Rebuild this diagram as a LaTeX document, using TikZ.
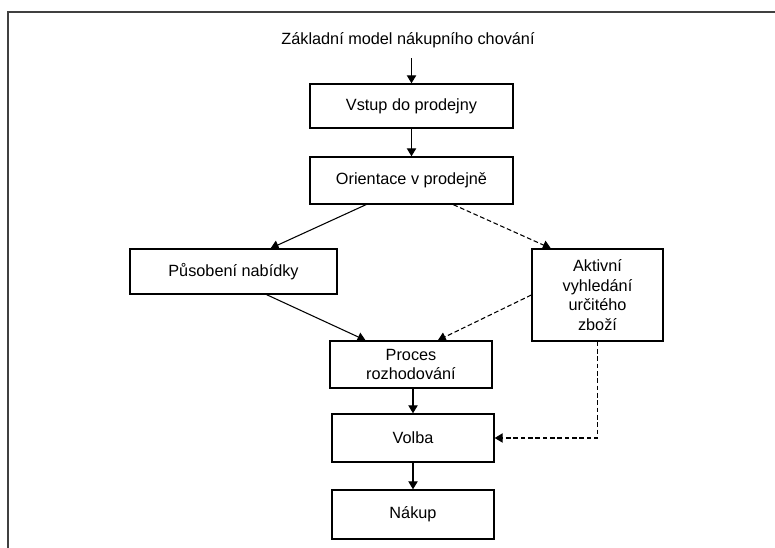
\documentclass[tikz,border=0pt]{standalone}
\usepackage{fontspec}
\setmainfont{Liberation Sans}
\usetikzlibrary{arrows.meta}

\tikzset{
  box/.style={draw, line width=1pt, inner sep=0pt, align=center,
              font=\fontsize{12.2}{14.6}\selectfont},
  arr/.style={line width=0.8pt, -{Triangle[length=6pt,width=7pt]}},
  darr/.style={arr, dash pattern=on 3.5pt off 2pt}
}

\begin{document}
\begin{tikzpicture}[x=0.75pt, y=-0.75pt]
  \useasboundingbox (0,0) rectangle (775,548);
  %% frame (only top and left edge are visible)
  \draw[line width=1.3pt, black!75] (8,548) -- (8,12) -- (775,12);

  \node (title) at (408,40) {\fontsize{12.2}{14.6}\selectfont Základní model nákupního chování};

  \node[box, minimum width=152.25pt, minimum height=33pt]    (vstup)  at (411.5,106)   {Vstup do prodejny};
  \node[box, minimum width=152.25pt, minimum height=35.25pt] (orient) at (411.5,180.5) {Orientace v prodejně};
  \node[box, minimum width=155.25pt, minimum height=33.75pt] (pusob)  at (233.5,271.5) {Působení nabídky};
  \node[box, minimum width=98.25pt,  minimum height=69pt]    (aktiv)  at (597.5,295)   {Aktivní\\vyhledání\\určitého\\zboží};
  \node[box, minimum width=121.5pt,  minimum height=35.25pt] (proces) at (411,364.5)   {Proces\\rozhodování};
  \node[box, minimum width=121.5pt,  minimum height=36pt]    (volba)  at (413,438)     {Volba};
  \node[box, minimum width=121.5pt,  minimum height=36.75pt] (nakup)  at (413,514.5)   {Nákup};

  %% main flow
  \draw[arr] (title.south -| vstup.north) ++(0,6) -- (vstup.north);
  \draw[arr] (vstup) -- (orient);
  \draw[arr] (orient.208) -- (pusob.32);
  \draw[arr] (pusob.-35) -- (proces.152);
  \draw[arr] (proces.south -| volba.north) -- (volba.north);
  \draw[arr] (volba) -- (nakup);

  %% dashed side branch
  \draw[darr] (orient.-30) -- (aktiv.135);
  \draw[darr] (aktiv.west) -- (proces.42);
  \draw[darr] (aktiv.south) |- (volba.east);
\end{tikzpicture}
\end{document}
